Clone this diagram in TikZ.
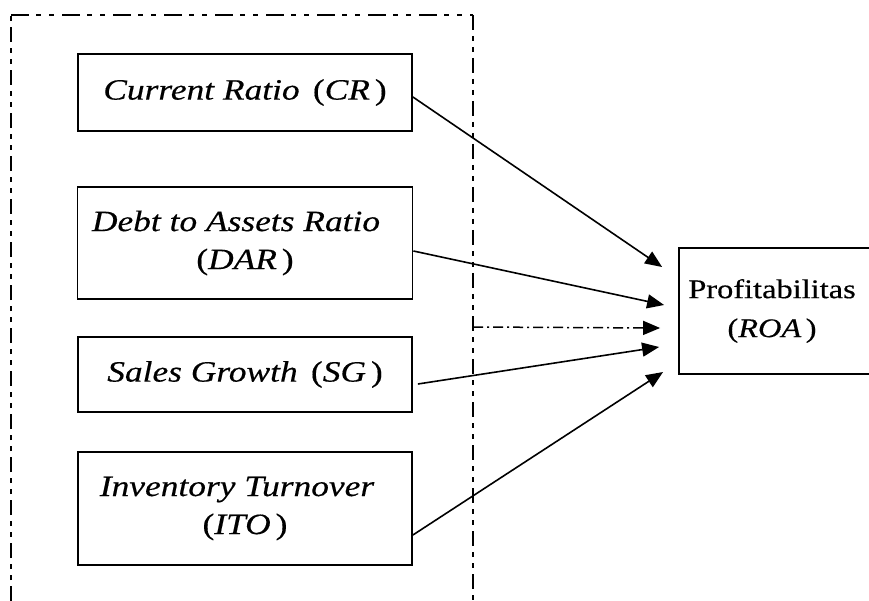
\documentclass[tikz,border=0pt]{standalone}
\usepackage{fontspec}
\setmainfont{Liberation Serif}[FakeStretch=1.2,FakeBold=0.4]
\usetikzlibrary{arrows.meta}

\begin{document}
\begin{tikzpicture}[x=1pt,y=-1pt,
  box/.style={draw, line width=1.8pt, inner sep=0pt, align=center,
    font=\fontsize{29.5}{38}\selectfont},
  tip/.style={-{Triangle[length=17pt,width=14pt]}},
  link/.style={line width=1.6pt, tip},
  framev/.style={line width=1.8pt, dash pattern=on 15pt off 6pt on 5pt off 6pt on 5pt off 6pt},
  frameh/.style={line width=1.8pt, dash pattern=on 18pt off 7pt on 5pt off 8pt on 5pt off 8pt},
  dashdot/.style={line width=1.5pt, dash pattern=on 10pt off 4pt on 2pt off 4pt, tip}]
\clip (0,0) rectangle (869,601);
\useasboundingbox (0,0) rectangle (869,601);

% grouping frame, open at the bottom
\draw[framev] (11,601) -- (11,15);
\draw[frameh] (11,15) -- (473,15);
\draw[framev] (473,15) -- (473,601);

% independent variables
\node[box, minimum width=334pt, minimum height=77pt] (cr) at (245,92.5)
  {\itshape Current Ratio\hspace{0.45em}\upshape(\itshape CR\upshape\,)};
\node[box, minimum width=335pt, minimum height=112pt] (dar) at (245,243)
  {\itshape Debt to Assets Ratio\hspace*{18pt}\\\upshape(\itshape DAR\upshape\,)};
\node[box, minimum width=334pt, minimum height=75pt] (sg) at (245,374.5)
  {\itshape Sales Growth\hspace{0.45em}\upshape(\itshape SG\upshape\,)};
\node[box, minimum width=334pt, minimum height=113pt] (ito) at (245,508.5)
  {\itshape Inventory Turnover\hspace*{16pt}\\\upshape(\itshape ITO\upshape\,)};

% dependent variable
\node[box, minimum width=201pt, minimum height=126pt,
  font=\fontsize{27}{39}\selectfont] (roa) at (779.5,311)
  {Profitabilitas\hspace*{15pt}\\(\itshape ROA\upshape\,)\hspace*{15pt}};

% simultaneous effect from the frame
\coordinate (fr) at (473,327);

% connectors
\draw[link] ([yshift=-4.5pt]cr.east) -- ([xshift=-16pt,yshift=44pt]roa.west);
\draw[link] ([yshift=-8pt]dar.east) -- ([xshift=-14pt,yshift=6pt]roa.west);
\draw[dashdot] (fr) -- ([xshift=-18pt,yshift=-17pt]roa.west);
\draw[link] ([xshift=5pt,yshift=-9.5pt]sg.east) -- ([xshift=-19pt,yshift=-36pt]roa.west);
\draw[link] ([yshift=-26.5pt]ito.east) -- ([xshift=-15pt,yshift=-61pt]roa.west);
\end{tikzpicture}
\end{document}
